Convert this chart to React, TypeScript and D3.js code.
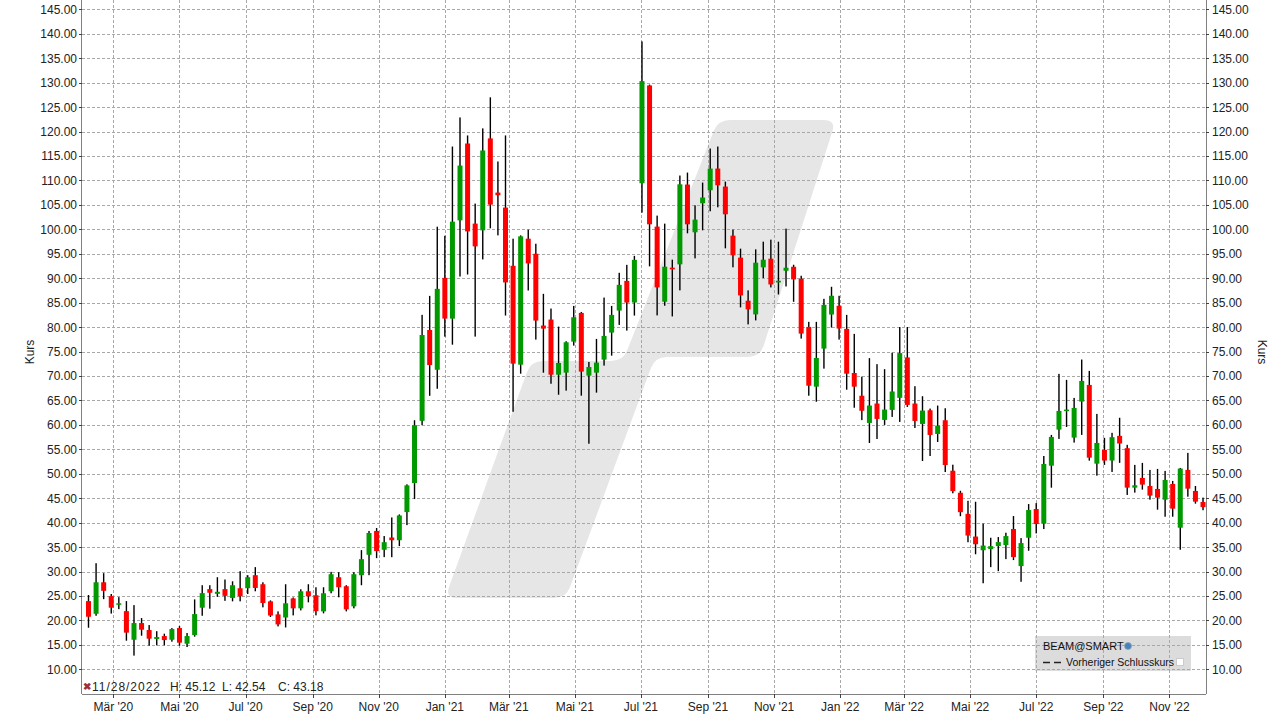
import React from "react";
import * as d3 from "d3";

// ---------- data ----------
const firstWeekStart = "2020-02-03";

const opens = [
  23.95, 21.36, 27.8, 24.97, 23.2, 21.9, 16.05, 19.46, 18.03, 16.2,
  16.8, 16.05, 18.44, 15.24, 17.0, 22.6, 26.4, 25.44, 26.4, 24.6,
  26.58, 26.58, 29.25, 27.4, 23.9, 21.23, 20.6, 24.5, 22.47, 25.96,
  25.14, 21.85, 25.96, 28.84, 26.99, 22.88, 29.25, 33.42, 38.3, 34.45,
  36.96, 36.4, 42.16, 48.1, 60.82, 79.41, 71.27, 90.07, 81.73, 101.83,
  117.55, 101.16, 99.79, 118.59, 107.51, 104.44, 92.54, 72.31, 98.08, 95.0,
  80.31, 81.54, 70.26, 70.68, 77.03, 82.9, 70.07, 70.68, 73.34, 78.87,
  83.38, 89.45, 85.02, 109.42, 129.42, 100.55, 85.19, 92.15, 92.83, 109.15,
  99.39, 105.33, 107.99, 112.42, 108.74, 98.7, 94.2, 85.39, 82.59, 92.21,
  93.99, 89.13, 91.52, 92.34, 89.88, 80.04, 67.81, 75.6, 82.57, 84.35,
  79.63, 70.61, 65.96, 60.39, 64.36, 61.01, 63.06, 65.52, 73.79, 64.36,
  60.19, 62.99, 58.14, 60.94, 50.62, 46.11, 41.8, 37.15, 34.35, 34.59,
  35.2, 35.41, 38.69, 31.11, 36.91, 42.78, 39.78, 51.65, 59.03, 62.85,
  57.39, 64.76, 68.17, 52.06, 54.88, 52.7, 57.75, 55.23, 47.16, 49.14,
  47.5, 46.89, 44.7, 47.91, 38.96, 50.78, 46.48, 44.22,
];
const highs = [
  25.2, 31.7, 29.66, 25.4, 24.76, 23.95, 23.13, 20.48, 19.05, 17.8,
  17.28, 18.44, 18.84, 17.42, 24.3, 27.2, 27.2, 28.84, 28.37, 28.0,
  30.07, 29.25, 30.9, 27.8, 24.1, 21.85, 27.4, 24.7, 26.37, 27.4,
  26.78, 26.78, 29.93, 29.86, 27.2, 29.86, 34.38, 38.3, 38.9, 37.26,
  41.06, 41.68, 47.83, 60.95, 82.5, 86.38, 100.53, 98.68, 116.93, 122.88,
  119.2, 105.26, 120.64, 127.0, 113.87, 119.2, 98.08, 98.76, 99.92, 97.05,
  86.8, 83.79, 80.1, 77.1, 84.33, 83.1, 72.87, 77.58, 86.04, 84.33,
  91.1, 92.73, 94.57, 138.43, 129.6, 102.8, 101.16, 93.79, 111.0, 111.6,
  104.9, 109.56, 116.52, 116.93, 109.76, 99.93, 96.04, 87.51, 95.9, 97.47,
  97.88, 97.47, 100.14, 92.75, 90.5, 81.07, 81.07, 85.78, 88.24, 86.4,
  82.5, 78.61, 69.86, 73.65, 72.42, 71.39, 74.75, 80.01, 80.01, 67.91,
  65.86, 63.33, 63.95, 63.4, 51.85, 46.52, 44.47, 44.27, 39.8, 36.91,
  37.05, 37.94, 41.35, 36.84, 43.8, 44.0, 53.63, 57.94, 70.43, 69.2,
  65.51, 73.36, 71.04, 62.24, 57.34, 58.37, 61.45, 55.91, 51.81, 52.22,
  50.78, 50.99, 50.58, 48.53, 51.19, 54.27, 47.5, 45.12,
];
const lows = [
  18.5, 20.95, 24.35, 21.4, 22.3, 15.85, 12.8, 16.87, 14.83, 14.9,
  14.9, 15.65, 14.83, 14.56, 16.67, 20.95, 22.4, 24.83, 24.0, 23.9,
  23.9, 25.4, 25.96, 22.67, 20.7, 18.77, 18.56, 21.03, 22.05, 23.7,
  21.03, 21.44, 25.55, 24.73, 21.85, 22.47, 27.2, 29.25, 32.74, 32.95,
  32.93, 35.2, 39.49, 44.82, 59.93, 65.94, 67.38, 78.04, 76.4, 90.34,
  90.75, 78.05, 93.84, 100.2, 98.76, 82.36, 62.67, 70.47, 87.48, 77.44,
  70.67, 68.41, 66.16, 67.0, 76.21, 65.97, 56.14, 66.59, 72.12, 74.16,
  80.44, 79.28, 82.35, 103.41, 92.42, 82.39, 84.37, 82.18, 87.51, 99.18,
  94.06, 99.8, 103.69, 104.5, 96.11, 92.22, 84.03, 80.55, 81.37, 90.02,
  88.11, 86.67, 88.31, 85.17, 77.65, 65.96, 64.73, 71.5, 79.9, 77.44,
  67.19, 63.5, 60.97, 56.29, 57.11, 59.98, 61.62, 60.6, 63.67, 59.37,
  52.6, 53.63, 56.5, 50.35, 46.0, 41.32, 35.99, 33.53, 27.6, 30.9,
  30.08, 32.54, 32.34, 27.9, 34.25, 37.8, 38.69, 47.15, 57.12, 59.57,
  56.37, 57.94, 52.68, 49.61, 51.81, 50.37, 52.22, 45.66, 46.14, 46.75,
  44.7, 42.65, 41.21, 41.21, 34.45, 45.31, 43.88, 42.54,
];
const closes = [
  20.75, 27.8, 26.05, 22.6, 23.5, 17.5, 19.46, 18.1, 16.26, 16.6,
  15.98, 18.23, 15.44, 16.8, 21.3, 25.58, 25.65, 25.85, 25.03, 27.2,
  24.93, 28.84, 26.64, 23.56, 21.0, 19.18, 23.5, 22.47, 25.96, 24.93,
  21.9, 25.55, 29.45, 26.78, 22.26, 29.45, 32.53, 37.88, 34.18, 36.0,
  36.4, 41.47, 47.62, 59.93, 78.38, 72.23, 87.82, 81.73, 101.56, 113.04,
  99.57, 96.51, 116.12, 105.05, 106.97, 89.13, 72.52, 98.56, 93.02, 81.33,
  79.69, 70.26, 72.66, 76.89, 82.01, 70.89, 71.84, 72.73, 78.19, 82.49,
  88.64, 85.02, 93.75, 130.31, 101.02, 88.12, 92.35, 91.81, 109.2, 101.02,
  101.98, 106.5, 112.42, 109.0, 103.07, 94.68, 86.48, 83.62, 93.17, 93.78,
  88.72, 89.47, 92.14, 89.75, 78.67, 68.01, 73.68, 84.55, 86.4, 79.7,
  70.47, 67.81, 62.88, 63.95, 61.21, 63.13, 66.82, 74.68, 64.08, 60.8,
  62.92, 57.93, 59.85, 51.78, 46.45, 42.14, 37.36, 35.58, 35.31, 35.19,
  36.02, 37.25, 32.95, 35.82, 42.58, 39.71, 51.99, 57.53, 62.85, 63.12,
  63.46, 68.99, 53.29, 56.3, 52.7, 57.48, 56.18, 47.16, 47.64, 47.78,
  45.52, 45.11, 48.73, 42.85, 51.06, 46.95, 44.29, 43.18,
];

const yTickValues = [10, 15, 20, 25, 30, 35, 40, 45, 50, 55, 60, 65, 70, 75, 80, 85, 90, 95, 100, 105, 110, 115, 120, 125, 130, 135, 140, 145];
const xTickDates = [
  "2020-03-01", "2020-05-01", "2020-07-01", "2020-09-01", "2020-11-01",
  "2021-01-01", "2021-03-01", "2021-05-01", "2021-07-01", "2021-09-01", "2021-11-01",
  "2022-01-01", "2022-03-01", "2022-05-01", "2022-07-01", "2022-09-01", "2022-11-01",
];
const xTickLabels = [
  "Mär '20", "Mai '20", "Jul '20", "Sep '20", "Nov '20",
  "Jan '21", "Mär '21", "Mai '21", "Jul '21", "Sep '21", "Nov '21",
  "Jan '22", "Mär '22", "Mai '22", "Jul '22", "Sep '22", "Nov '22",
];
const infoDate = "11/28/2022";
const infoParts = ["H: 45.12", "L: 42.54", "C: 43.18"];
const legendTitle = "BEAM@SMART";
const legendLine = "Vorheriger Schlusskurs";

// ---------- helpers ----------
function roundedPath(pts: [number, number][], r: number) {
  const n = pts.length;
  let d = "";
  for (let i = 0; i < n; i++) {
    const p0 = pts[(i - 1 + n) % n];
    const p1 = pts[i];
    const p2 = pts[(i + 1) % n];
    const v1 = [p0[0] - p1[0], p0[1] - p1[1]];
    const v2 = [p2[0] - p1[0], p2[1] - p1[1]];
    const l1 = Math.hypot(v1[0], v1[1]);
    const l2 = Math.hypot(v2[0], v2[1]);
    const rr = Math.min(r, l1 / 2, l2 / 2);
    const a = [p1[0] + (v1[0] / l1) * rr, p1[1] + (v1[1] / l1) * rr];
    const b = [p1[0] + (v2[0] / l2) * rr, p1[1] + (v2[1] / l2) * rr];
    d += (i === 0 ? "M" : "L") + a[0] + "," + a[1] + "Q" + p1[0] + "," + p1[1] + " " + b[0] + "," + b[1];
  }
  return d + "Z";
}

export default function App() {
  const W = 1279;
  const H = 720;
  const left = 82;
  const right = 1206;
  const top = 0;
  const bottom = 694;
  const font = "'Liberation Sans', Arial, Helvetica, sans-serif";

  const x = d3
    .scaleUtc()
    .domain([new Date(Date.UTC(2020, 1, 1)), new Date(Date.UTC(2022, 11, 4, 18))])
    .range([left, right]);
  const y = d3.scaleLinear().domain([10, 145]).range([669.3, 9.3]);

  const start = new Date(firstWeekStart + "T00:00:00Z");
  const candles = opens.map((o, i) => ({
    date: d3.utcDay.offset(start, i * 7 + 4),
    o,
    h: highs[i],
    l: lows[i],
    c: closes[i],
  }));

  const bodyW = 5;
  const green = "#009a00";
  const red = "#ff0000";
  const gridColor = "#a8a8a8";

  const watermark = roundedPath(
    [
      [445, 598],
      [531, 361],
      [623, 361],
      [718, 120],
      [836, 120],
      [760, 357],
      [655, 357],
      [566, 598],
    ],
    12
  );

  return (
    <div style={{ position: "absolute", left: 0, top: 0 }}>
      <svg width={W} height={H} style={{ display: "block", background: "#fff" }}>
        <rect x={0} y={0} width={W} height={H} fill="#fff" />
        {/* watermark */}
        <path d={watermark} fill="#e6e6e6" />

        {/* legend box (under grid) */}
        <rect x={1035} y={636} width={156} height={35} fill="#dcdcdc" />

        {/* grid */}
        <g stroke={gridColor} strokeWidth={1} strokeDasharray="3,2" shapeRendering="crispEdges">
          {yTickValues.map((v) => (
            <line key={"gy" + v} x1={left} x2={right} y1={Math.round(y(v)) + 0.5} y2={Math.round(y(v)) + 0.5} />
          ))}
          {xTickDates.map((d) => {
            const xx = Math.round(x(new Date(d + "T00:00:00Z"))) + 0.5;
            return <line key={"gx" + d} x1={xx} x2={xx} y1={top} y2={bottom} />;
          })}
        </g>

        {/* candles */}
        <g>
          {candles.map((k, i) => {
            const cx = x(k.date);
            const up = k.c >= k.o;
            const yt = y(Math.max(k.o, k.c));
            const yb = y(Math.min(k.o, k.c));
            return (
              <g key={i}>
                <rect x={cx - 0.7} y={y(k.h)} width={1.4} height={y(k.l) - y(k.h)} fill="#000" />
                <rect
                  x={cx - bodyW / 2}
                  y={yt}
                  width={bodyW}
                  height={Math.max(yb - yt, 1.5)}
                  fill={up ? green : red}
                />
              </g>
            );
          })}
        </g>

        {/* axes lines */}
        <g stroke="#808080" strokeWidth={1} shapeRendering="crispEdges">
          <line x1={left - 0.5} x2={left - 0.5} y1={top} y2={bottom} />
          <line x1={right + 0.5} x2={right + 0.5} y1={top} y2={bottom} />
          <line x1={left} x2={right} y1={bottom + 0.5} y2={bottom + 0.5} />
        </g>
        <g stroke="#404040" strokeWidth={1} shapeRendering="crispEdges">
          {yTickValues.map((v) => (
            <g key={"tk" + v}>
              <line x1={left - 3} x2={left} y1={Math.round(y(v)) + 0.5} y2={Math.round(y(v)) + 0.5} />
              <line x1={right} x2={right + 3} y1={Math.round(y(v)) + 0.5} y2={Math.round(y(v)) + 0.5} />
            </g>
          ))}
          {xTickDates.map((d) => {
            const xx = Math.round(x(new Date(d + "T00:00:00Z"))) + 0.5;
            return <line key={"tx" + d} x1={xx} x2={xx} y1={bottom} y2={bottom + 4} />;
          })}
        </g>

        {/* y labels */}
        <g fontFamily={font} fontSize={12} fill="#222">
          {yTickValues.map((v) => (
            <text key={"ly" + v} x={77} y={y(v) + 4.5} textAnchor="end">
              {v.toFixed(2)}
            </text>
          ))}
          {yTickValues.map((v) => (
            <text key={"ry" + v} x={1212} y={y(v) + 4.5} textAnchor="start">
              {v.toFixed(2)}
            </text>
          ))}
          {xTickDates.map((d, i) => (
            <text key={"lx" + d} x={x(new Date(d + "T00:00:00Z"))} y={711} textAnchor="middle">
              {xTickLabels[i]}
            </text>
          ))}
          <text transform="translate(34,352) rotate(-90)" textAnchor="middle">
            Kurs
          </text>
          <text transform="translate(1258,352) rotate(90)" textAnchor="middle">
            Kurs
          </text>
        </g>

        {/* info line */}
        <g fontFamily={font} fontSize={12} fill="#222">
          <text x={83} y={690} fill="#a03030" fontSize={10} fontWeight="bold">
            ✖
          </text>
          <text x={92} y={691} textLength={68} lengthAdjust="spacing">{infoDate}</text>
          <text x={170} y={691}>{infoParts[0]}</text>
          <text x={222} y={691}>{infoParts[1]}</text>
          <text x={278} y={691}>{infoParts[2]}</text>
        </g>

        {/* legend */}
        <g fontFamily={font} fill="#111">
          <text x={1043} y={650} fontSize={11}>
            {legendTitle}
          </text>
          <circle cx={1128} cy={646} r={3.5} fill="#4a7fc0" stroke="#8aa" strokeWidth={0.8} />
          <line x1={1043} x2={1061} y1={662.5} y2={662.5} stroke="#222" strokeWidth={1.5} strokeDasharray="7,4" />
          <text x={1066} y={666} fontSize={10.5}>
            {legendLine}
          </text>
          <rect x={1176.5} y={658.5} width={7} height={7} fill="#fff" stroke="#ccc" strokeWidth={1} />
        </g>
      </svg>
    </div>
  );
}
